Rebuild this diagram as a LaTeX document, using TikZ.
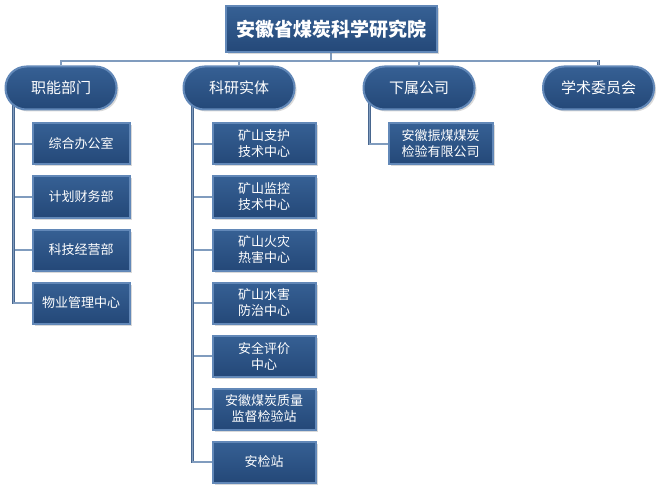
\documentclass[tikz,border=0pt]{standalone}
\usepackage{fontspec}
\newfontfamily\cjk{Noto Sans CJK SC}
\usepackage{tikz}
\usetikzlibrary{positioning}
\usetikzlibrary{shadows}
\pgfdeclarelayer{orgbg}
\pgfsetlayers{orgbg,main}
\definecolor{boxtop}{RGB}{54,96,148}
\definecolor{boxbottom}{RGB}{36,72,120}
\definecolor{boxrim}{RGB}{98,136,184}
\definecolor{linkblue}{RGB}{128,156,190}
\definecolor{linkedge}{RGB}{72,102,142}

\begin{document}
\begin{tikzpicture}[x=1pt,y=-1pt,
	orgbox/.style={draw=boxrim, line width=2pt, top color=boxtop, bottom color=boxbottom, text=white, align=center, inner sep=0pt, drop shadow={opacity=0.3, shadow xshift=2pt, shadow yshift=-2pt}},
	headbox/.style={orgbox, minimum width=211pt, minimum height=46pt, font=\cjk\bfseries\fontsize{19}{22}\selectfont},
	unitpill/.style={orgbox, rounded corners=21pt, minimum width=111pt, minimum height=43pt, font=\cjk\fontsize{15}{18}\selectfont},
	subbox/.style={orgbox, minimum height=41pt, font=\cjk\fontsize{13}{16}\selectfont},
	link/.style={draw=linkedge, line width=0.7pt, double=linkblue, double distance=1.2pt}]
		\useasboundingbox (0,0) rectangle (658,489);
		\node [headbox] at (331,29.5) (root) {安徽省煤炭科学研究院};
		\coordinate (bus) at (331,61);
		\node [unitpill] at (61,88) (func) {职能部门};
		\node [unitpill] at (239,88) (research) {科研实体};
		\node [unitpill] at (419,88) (subsid) {下属公司};
		\node [unitpill] at (598.5,88) (academic) {学术委员会};
		
		\node [subbox, minimum width=97pt, below right=12pt and 27pt of func.south west] (office) {综合办公室};
		\node [subbox, minimum width=97pt, below=10pt of office] (finance) {计划财务部};
		\node [subbox, minimum width=97pt, below=10pt of finance] (techbiz) {科技经营部};
		\node [subbox, minimum width=97pt, below=10pt of techbiz] (property) {物业管理中心};
		
		\node [subbox, minimum width=103pt, below right=12pt and 29pt of research.south west] (support) {矿山支护\\技术中心};
		\node [subbox, minimum width=103pt, below=10pt of support] (monitor) {矿山监控\\技术中心};
		\node [subbox, minimum width=103pt, below=10pt of monitor] (fire) {矿山火灾\\热害中心};
		\node [subbox, minimum width=103pt, below=10pt of fire] (water) {矿山水害\\防治中心};
		\node [subbox, minimum width=103pt, below=10pt of water] (safety) {安全评价\\中心};
		\node [subbox, minimum width=103pt, below=10pt of safety] (quality) {安徽煤炭质量\\监督检验站};
		\node [subbox, minimum width=103pt, below=10pt of quality] (inspect) {安检站};
		
		\node [subbox, minimum width=104pt, below right=12pt and 25pt of subsid.south west] (testco) {安徽振煤煤炭\\检验有限公司};
		
		% connectors sit behind the boxes
		\begin{pgfonlayer}{orgbg}
		\draw [link] (root) -- (bus);
		\draw [link] (func) |- (bus);
		\draw [link] (research) |- (bus);
		\draw [link] (subsid) |- (bus);
		\draw [link] (academic) |- (bus);
		
		\draw [link] ([xshift=9pt]func.west) |- (office.west);
		\draw [link] ([xshift=9pt]func.west) |- (finance.west);
		\draw [link] ([xshift=9pt]func.west) |- (techbiz.west);
		\draw [link] ([xshift=9pt]func.west) |- (property.west);
		
		\draw [link] ([xshift=10pt]research.west) |- (support.west);
		\draw [link] ([xshift=10pt]research.west) |- (monitor.west);
		\draw [link] ([xshift=10pt]research.west) |- (fire.west);
		\draw [link] ([xshift=10pt]research.west) |- (water.west);
		\draw [link] ([xshift=10pt]research.west) |- (safety.west);
		\draw [link] ([xshift=10pt]research.west) |- (quality.west);
		\draw [link] ([xshift=10pt]research.west) |- (inspect.west);
		
		\draw [link] ([xshift=7pt]subsid.west) |- (testco.west);
		\end{pgfonlayer}
\end{tikzpicture}
\end{document}
